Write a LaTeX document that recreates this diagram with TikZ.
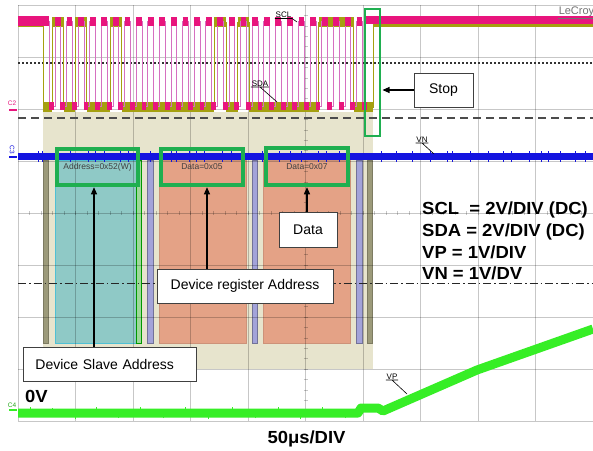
\documentclass[tikz,border=0pt]{standalone}
\usepackage{fontspec}
\setmainfont{Liberation Sans}
\newfontfamily\legendfont[FakeStretch=1.055]{Liberation Sans}
\usetikzlibrary{arrows.meta}
\definecolor{sclc}{HTML}{E8157D}
\definecolor{sclthin}{HTML}{D670C0}
\definecolor{sdac}{HTML}{A5A010}
\definecolor{vnc}{HTML}{1414E0}
\definecolor{vpc}{HTML}{36EE26}
\definecolor{boxg}{HTML}{1FAF50}
\definecolor{beigec}{HTML}{E7E4CD}
\definecolor{tealfill}{HTML}{8FC9C6}
\definecolor{tealline}{HTML}{4FC0D4}
\definecolor{rwfill}{HTML}{9FD89A}
\definecolor{orangefill}{HTML}{E4A286}
\definecolor{purplebar}{HTML}{A3A3D9}
\definecolor{olivebar}{HTML}{9C9A7A}
\begin{document}
\begin{tikzpicture}[x=1pt,y=-1pt,
  scopegrid/.style={black,opacity=0.22,line width=0.6pt},
  callout/.style={draw=black!75,fill=white,line width=0.8pt,inner sep=0pt,font=\fontsize{14}{16}\selectfont},
  arr/.style={-{Triangle[length=7pt,width=6pt]},line width=1.1pt,black},
  gbox/.style={draw=boxg,line width=3.5pt,inner sep=0pt,font=\fontsize{8.5}{10}\selectfont,text=black!75},
  lbl/.style={font=\fontsize{8}{9}\selectfont,inner sep=0.6pt},
  legend/.style={font=\legendfont\fontsize{17.5}{21.7}\selectfont\bfseries,inner sep=0pt},
  decbar/.style={line width=0.6pt},
  sclthick/.style={sclc,line width=9pt},
  sdathick/.style={sdac,line width=9.5pt}]
\useasboundingbox (0,0) rectangle (593,450);
\fill[white] (0,0) rectangle (593,450);

% decode area
\fill[beigec] (43,112) rectangle (373,369);
\filldraw[decbar,fill=olivebar,draw=olivebar!80!black] (43,160) rectangle (48,343);
\filldraw[decbar,fill=tealfill,draw=tealline] (55,160) rectangle (136,343);
\filldraw[decbar,fill=rwfill,draw=green!60!black] (136,160) rectangle (141,343);
\filldraw[decbar,fill=purplebar,draw=purplebar!70!black] (147,160) rectangle (153,343);
\filldraw[decbar,fill=orangefill,draw=orangefill!90!black] (159,160) rectangle (246,343);
\filldraw[decbar,fill=purplebar,draw=purplebar!70!black] (252,160) rectangle (257,343);
\filldraw[decbar,fill=orangefill,draw=orangefill!90!black] (263,160) rectangle (350,343);
\filldraw[decbar,fill=purplebar,draw=purplebar!70!black] (356,160) rectangle (362,343);
\filldraw[decbar,fill=olivebar,draw=olivebar!80!black] (367,160) rectangle (372,343);

% grid
\foreach \i in {0,...,10} \draw[scopegrid] ({18+57.5*\i},5) -- ({18+57.5*\i},421);
\foreach \j in {0,...,8} \draw[scopegrid] (18,{5+52*\j}) -- (593,{5+52*\j});
\foreach \i in {1,...,49} \draw[scopegrid] ({18+11.5*\i},211) -- ({18+11.5*\i},215);
\foreach \j in {1,...,39} \draw[scopegrid] (303.5,{5+10.4*\j}) -- (307.5,{5+10.4*\j});

% reference lines
\draw[black!80,line width=1.3pt,dash pattern=on 1.5pt off 2.5pt] (18,63) -- (593,63);
\draw[black!70,line width=1.2pt,dash pattern=on 8pt off 5pt] (18,118) -- (593,118);
\draw[black!85,line width=0.9pt,dash pattern=on 8pt off 3pt on 1.5pt off 3pt] (18,283) -- (593,283);

% SDA
\draw[sdac,line width=0.9pt] (18,22) -- (43,22) -- (43,107) -- (52,107) -- (52,22) -- (63.6,22) -- (63.6,107) -- (75.2,107) -- (75.2,22) -- (86.8,22) -- (86.8,107) -- (110,107) -- (110,22) -- (121.6,22) -- (121.6,107) -- (214.4,107) -- (214.4,22) -- (226,22) -- (226,107) -- (237.6,107) -- (237.6,22) -- (249.2,22) -- (249.2,107) -- (318.8,107) -- (318.8,22) -- (353.6,22) -- (353.6,107) -- (373,107) -- (373,24);
\foreach \a/\b in {18/43,52/63.6,75.2/86.8,110/121.6,214.4/226,237.6/249.2,318.8/353.6}
  \draw[sdathick] (\a,22) -- (\b,22);
\draw[sdac,line width=4pt] (373,25) -- (593,25);
\foreach \a/\b in {43/52,63.6/75.2,86.8/110,121.6/214.4,226/237.6,249.2/318.8,353.6/373}
  \draw[sdathick] (\a,107) -- (\b,107);

% SCL
\draw[sclthin,line width=1pt] (18,21) -- (49,21) -- (49,106)
  foreach \k in {0,...,26} { -- ({55+11.6*\k},106) -- ({55+11.6*\k},21) -- ({60.8+11.6*\k},21) -- ({60.8+11.6*\k},106) }
  -- (364,106) -- (364,21) -- (593,21);
\draw[sclthick] (18,21) -- (49,21);
\foreach \k in {0,...,26} {
  \draw[sclthick] ({55+11.6*\k},21) -- ({60.8+11.6*\k},21);
  \draw[sclthick,line width=8pt] ({60.8+11.6*\k-0.5},106) -- ({66.6+11.6*\k-1.5},106);
}
\draw[sclthick,line width=8pt] (49,106) -- (54,106);
\draw[sclthick,line width=8pt] (18,20) -- (49,20);
\draw[sclthick,line width=8pt] (364,20) -- (593,20);

% VN
\draw[vnc,line width=7pt] (18,156.5) -- (593,156.5);
\foreach \x in {38,42,70,88,95,104,120,128,150,171,176,189,196,204,222,231,244,262,279,290,301,318,326,339,349,381,396,412,430,447,452,470,488,503,511,529,541,548,560,575,585}
  \draw[vnc,line width=0.8pt] (\x,151) -- (\x,162);

% VP
\draw[vpc,line width=9pt,line join=round] (18,413) -- (358,413) -- (361,408) -- (378,408) -- (383,411) -- (477,370) -- (593,329);
\foreach \x/\y in {30/407,52/408,75/419,96/407,118/418,140/407,163/418,185/407,208/419,232/407,255/418,278/407,300/419,322/407,345/418}
  \draw[vpc,line width=0.8pt] (\x,\y) -- (\x,413);

% green decode boxes
\node[gbox,minimum width=81pt,minimum height=36pt] (addr) at (97.5,167) {Address=0x52(W)};
\node[gbox,minimum width=82pt,minimum height=36pt] (d05) at (202,167) {Data=0x05};
\node[gbox,minimum width=82pt,minimum height=37pt] (d07) at (307,166.5) {Data=0x07};
\node[draw=boxg,line width=2pt,inner sep=0pt,minimum width=15pt,minimum height=127pt] (stopg) at (372.5,72) {};

% channel markers
\node[lbl,text=sclc,font=\fontsize{6.5}{7}\selectfont] (c2) at (12,103) {C2};
\draw[sclc,line width=2pt] (9,110) -- (17,110);
\node[lbl,text=vnc,font=\fontsize{6.5}{7}\selectfont,rotate=-90] (c3) at (12,150) {C3};
\draw[vnc,line width=2pt] (9,157) -- (17,157);
\node[lbl,text=vpc!70!black,font=\fontsize{6.5}{7}\selectfont] (c4) at (12,405) {C4};
\draw[vpc,line width=2pt] (9,410) -- (17,410);

% trace labels
\coordinate (sclT) at (297,22);
\coordinate (sdaT) at (277,102);
\coordinate (vnT) at (434,154);
\coordinate (vpT) at (407,394);
\node[lbl,anchor=south] (sclL) at (283.5,18.5) {SCL};
\draw[line width=0.6pt] (sclL.south west) -- (sclL.south east) -- (sclT);
\node[lbl,anchor=south] (sdaL) at (260,87) {SDA};
\draw[line width=0.6pt] (sdaL.south west) -- (sdaL.south east) (sdaL.south) -- (sdaT);
\node[lbl,anchor=south] (vnL) at (422,143) {VN};
\draw[line width=0.6pt] (vnL.south west) -- (vnL.south east) (vnL.south) -- (vnT);
\node[lbl,anchor=south] (vpL) at (392,380) {VP};
\draw[line width=0.6pt] (vpL.south west) -- (vpL.south east) (vpL.south) -- (vpT);
\node[inner sep=0.6pt,anchor=south east,text=black!55,font=\fontsize{11}{12}\selectfont] (lecroy) at (595,18) {LeCroy};
\draw[black!55,line width=0.6pt] (lecroy.south west) -- (lecroy.south east);

% callouts
\node[callout,minimum width=59pt,minimum height=34pt] (stopc) at (443.5,90) {Stop};
\node[callout,minimum width=58pt,minimum height=35pt] (datac) at (308,229.5) {Data};
\node[callout,minimum width=176pt,minimum height=34pt] (regc) at (245,286) {Device register Address};
\node[callout,anchor=west,minimum height=34pt,text width=149pt,align=left,inner xsep=12pt] (slavec) at (23,364) {Device Slave Address};

\coordinate (xs) at (94,0);
\coordinate (xr) at (207,0);
\coordinate (xd) at (307,0);
\draw[arr,shorten >=0.5pt] (slavec.north -| xs) -- (addr.south -| xs);
\draw[arr,shorten >=0.5pt] (regc.north -| xr) -- (d05.south -| xr);
\draw[arr,shorten >=0.5pt] (datac.north -| xd) -- (d07.south -| xd);
\draw[arr,shorten >=1.5pt] (stopc.west) -- (stopc.west -| stopg.east);

% legend and axis labels
\node[legend,anchor=base west] (leg1) at (422,214) {SCL\ \ = 2V/DIV (DC)};
\node[legend,anchor=base west] (leg2) at (422,236) {SDA = 2V/DIV (DC)};
\node[legend,anchor=base west] (leg3) at (422,258) {VP = 1V/DIV};
\node[legend,anchor=base west] (leg4) at (422,279.5) {VN = 1V/DV};
\node[legend,anchor=base west] (zero) at (25,402) {0V};
\node[legend,anchor=base] (tdiv) at (306.5,443) {50μs/DIV};
\end{tikzpicture}
\end{document}
